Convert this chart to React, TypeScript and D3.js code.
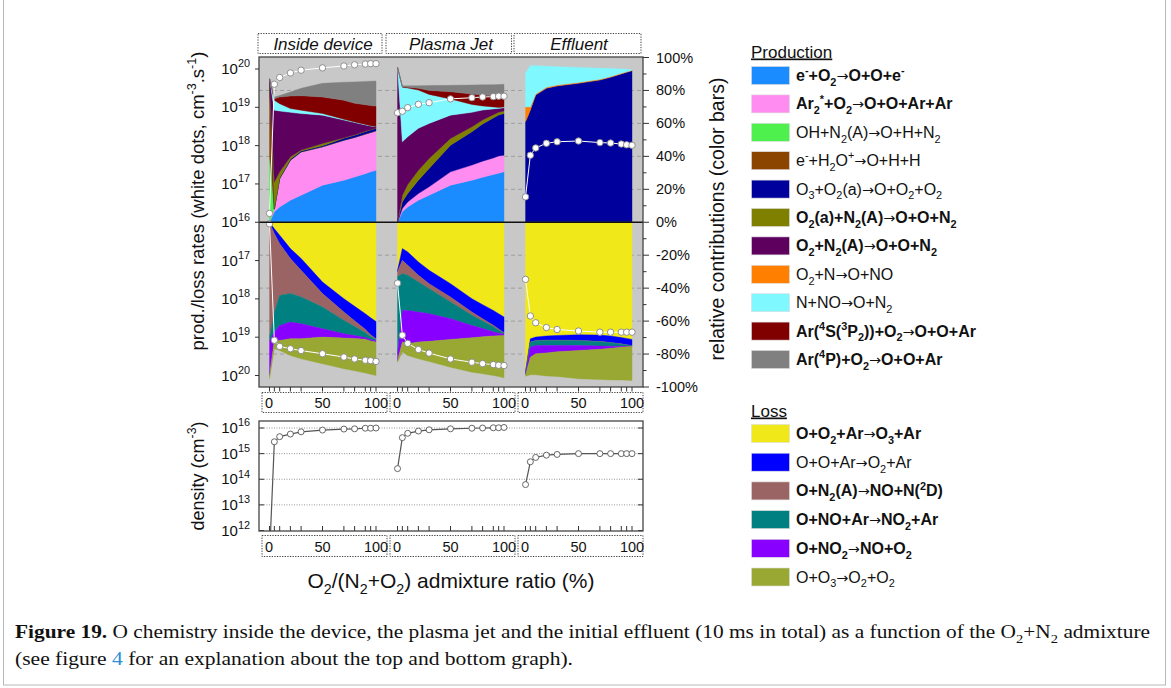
import React from 'react';
import * as d3 from 'd3';

// ---------------- data ----------------
const XS = [0.5, 5, 10, 20, 30, 50, 70, 80, 90, 95, 100];
const X_TICK_LABELS = [0, 50, 100];
const PANEL_TITLES = ['Inside device', 'Plasma Jet', 'Effluent'];
const PCT_TICKS = [-100, -80, -60, -40, -20, 0, 20, 40, 60, 80, 100];
const RATE_TICKS = [1e16, 1e17, 1e18, 1e19, 1e20];
const DENS_TICKS = [1e12, 1e13, 1e14, 1e15, 1e16];

const PROD_LABELS = [
  'e{^-}+O{_2}→O+O+e{^-}',
  'Ar{_2}{^*}+O{_2}→O+O+Ar+Ar',
  'OH+N{_2}(A)→O+H+N{_2}',
  'e{^-}+H{_2}O{^+}→O+H+H',
  'O{_3}+O{_2}(a)→O+O{_2}+O{_2}',
  'O{_2}(a)+N{_2}(A)→O+O+N{_2}',
  'O{_2}+N{_2}(A)→O+O+N{_2}',
  'O{_2}+N→O+NO',
  'N+NO→O+N{_2}',
  'Ar({^4}S({^3}P{_2}))+O{_2}→O+O+Ar',
  'Ar({^4}P)+O{_2}→O+O+Ar',
];
const PROD_BOLD = [true, true, false, false, false, true, true, false, false, true, true];
const PROD_COLORS = ['#1a8cff', '#ff8cf0', '#4df04d', '#8b4500', '#00009c', '#808000', '#5e005e', '#ff8000', '#80f8ff', '#800000', '#808080'];

const LOSS_LABELS = [
  'O+O{_2}+Ar→O{_3}+Ar',
  'O+O+Ar→O{_2}+Ar',
  'O+N{_2}(A)→NO+N({^2}D)',
  'O+NO+Ar→NO{_2}+Ar',
  'O+NO{_2}→NO+O{_2}',
  'O+O{_3}→O{_2}+O{_2}',
];
const LOSS_BOLD = [true, false, true, true, true, false];
const LOSS_COLORS = ['#f0e818', '#0000ff', '#9a6464', '#008080', '#8800ff', '#98a832'];

// relative contributions (%) — one row per production reaction (PROD_LABELS order)
const insideProd = [
  [0, 6.3, 9.3, 13.4, 16.4, 22.5, 25.5, 27.5, 29.5, 30.6, 31.6],
  [0, 1.7, 17.2, 24.3, 26.3, 23.3, 24.3, 24, 24, 23.9, 23.9],
  [40, 0, 0, 0, 0, 0, 0, 0, 0, 0, 0],
  [47, 0, 0, 0, 0, 0, 0, 0, 0, 0, 0],
  [0, 0.3, 0.5, 0.5, 0.5, 0.7, 1.2, 1.3, 1.5, 1.5, 1.5],
  [0, 16.2, 3.6, 1.5, 0.6, 1.3, 0.3, 0.3, 0.2, 0.2, 0.2],
  [0, 43.5, 36.9, 27, 22.2, 17.2, 10.7, 7.4, 3.9, 2.2, 0.8],
  [0, 0, 0, 0, 0, 0, 0, 0, 0, 0, 0],
  [0, 6, 4.5, 2.3, 2, 1, 0.5, 0.4, 0.3, 0.2, 0.1],
  [0, 1, 4, 7.6, 8.8, 10, 11.5, 11.3, 11.9, 12.2, 12.4],
  [0, 1, 1, 2.4, 4.5, 8.3, 11, 13, 14.2, 14.8, 15.2],
];
const plasmaProd = [
  [0, 6.3, 9.3, 13.4, 16.4, 22.5, 25.5, 27.3, 29, 29.8, 30.6],
  [0, 2, 3, 4, 5.1, 8.1, 9.2, 9.8, 10, 10.4, 10.1],
  [0, 0, 0, 0, 0, 0, 0, 0, 0, 0, 0],
  [0, 0, 0, 0, 0, 0, 0, 0, 0, 0, 0],
  [0, 4.1, 5.1, 8.1, 11.1, 16.2, 20.2, 22.5, 24.3, 24.9, 25.3],
  [0, 4, 5.5, 6.1, 6.1, 4.1, 3, 2.5, 2, 1.7, 1.5],
  [94, 32.4, 29, 25.4, 21.3, 14.1, 8.8, 6, 3.5, 2.3, 2],
  [0, 0, 0, 0, 0, 0, 0, 0, 0, 0, 0],
  [0, 33.2, 29.6, 23.2, 17.6, 9.8, 4.8, 2.5, 1.2, 0.6, 0.5],
  [0, 0.3, 0.5, 1.1, 2.4, 4.4, 6.3, 6.7, 6.8, 6.8, 6.2],
  [0, 0.5, 0.8, 1.6, 3, 3.9, 5.5, 6.1, 6.7, 7.1, 7.5],
];
const effluentProd = [
  [0, 0, 0, 0, 0, 0, 0, 0, 0, 0, 0],
  [0, 0, 0, 0, 0, 0, 0, 0, 0, 0, 0],
  [0, 0, 0, 0, 0, 0, 0, 0, 0, 0, 0],
  [0, 0, 0, 0, 0, 0, 0, 0, 0, 0, 0],
  [61, 68, 77.2, 81.3, 82.7, 84.3, 86.3, 88, 90, 91, 92],
  [0, 0, 0, 0, 0, 0, 0, 0, 0, 0, 0],
  [0, 0, 0, 0, 0, 0, 0, 0, 0, 0, 0],
  [9, 2, 0.6, 0.6, 0.6, 0.6, 0.5, 0.4, 0.4, 0.3, 0.3],
  [20.4, 25, 17.2, 12.8, 11.1, 9.1, 6.7, 4.9, 2.6, 1.5, 0.2],
  [0, 0, 0, 0, 0, 0, 0, 0, 0, 0, 0],
  [0, 0, 0, 0, 0, 0, 0, 0, 0, 0, 0],
];

// relative contributions (%) — one row per loss reaction (LOSS_LABELS order)
const insideLoss = [
  [0, 3.9, 7.9, 16, 22, 36.3, 46.4, 51, 55.5, 58, 60.2],
  [0.5, 3, 5.1, 6, 7.2, 7, 8.1, 8.8, 9.5, 10.3, 10.5],
  [69.5, 47.6, 31.4, 21.3, 16.2, 8.2, 5.1, 3.5, 2, 1.2, 0.6],
  [2, 12.2, 18.2, 17.3, 16.2, 13.1, 8.1, 5.5, 3, 1.7, 0.7],
  [21, 5, 9.1, 10.1, 9.1, 5.1, 2.6, 1.7, 1, 0.9, 0.7],
  [2, 5.1, 6.1, 10.2, 12.2, 16.2, 18.6, 19.7, 20.5, 20.2, 20.3],
];
const plasmaLoss = [
  [29, 16, 18, 24.1, 29.2, 37.3, 46.4, 50, 53.5, 55.5, 57.5],
  [1, 7.1, 8.1, 8.1, 8.1, 8.1, 8.1, 8.5, 9, 9.3, 9.5],
  [3, 8.1, 6.1, 4.1, 3, 3, 2, 1.5, 1, 0.7, 0.4],
  [47, 22.3, 21.3, 18.2, 15.2, 10.1, 6.1, 4.5, 3, 1.8, 0.4],
  [4, 19.2, 20.2, 18.2, 16.8, 12.6, 7.5, 5, 2.5, 1.6, 0.9],
  [1, 6.1, 7.2, 10.2, 12.2, 16.9, 20.9, 22.5, 24, 24.8, 25.7],
];
const effluentLoss = [
  [91, 70.7, 69.7, 69, 68.7, 68.3, 68.5, 69, 70, 70.5, 71.1],
  [0.3, 2, 2, 2.5, 2.8, 3.4, 3.8, 4, 3.8, 3.9, 3.7],
  [0.2, 0.3, 0.3, 0.3, 0.3, 0.3, 0.3, 0.2, 0.2, 0.1, 0.2],
  [0.5, 2.8, 2.8, 3, 3, 2.8, 2.5, 2, 1.2, 0.6, 0.2],
  [0.5, 6.1, 5, 4.5, 3.8, 3, 2, 1.3, 0.6, 0.4, 0.2],
  [1, 10.7, 12.8, 14, 15, 17.2, 18.4, 19.2, 20, 20.4, 20.6],
];

// total production / loss rates (cm^-3 s^-1) — white dots
const insideProdRate = [1.7e16, 4.0e19, 6.0e19, 7.9e19, 9.3e19, 1.07e20, 1.2e20, 1.29e20, 1.35e20, 1.38e20, 1.38e20];
const insideLossRate = [1.1e16, 1.2e19, 1.74e19, 2.0e19, 2.24e19, 2.7e19, 3.3e19, 3.7e19, 4.0e19, 4.1e19, 4.3e19];
const plasmaProdRate = [7.2e18, 7.9e18, 9.8e18, 1.2e19, 1.32e19, 1.66e19, 1.78e19, 1.86e19, 1.9e19, 1.95e19, 1.95e19];
const plasmaLossRate = [3.9e17, 8.9e18, 1.45e19, 2.1e19, 2.6e19, 3.7e19, 4.5e19, 4.9e19, 5.2e19, 5.4e19, 5.5e19];
const effluentProdRate = [4.6e16, 5.6e17, 8.7e17, 1.15e18, 1.26e18, 1.32e18, 1.2e18, 1.17e18, 1.1e18, 1.05e18, 1.02e18];
const effluentLossRate = [3.1e17, 2.8e18, 4.2e18, 5.6e18, 6.3e18, 6.9e18, 7.4e18, 7.4e18, 7.4e18, 7.4e18, 7.4e18];

// O density (cm^-3)
const insideDensity = [1e11, 2.9e15, 4.6e15, 5.8e15, 7.1e15, 8.3e15, 9.1e15, 9.3e15, 9.8e15, 9.8e15, 1.0e16];
const plasmaDensity = [2.6e14, 4.2e15, 6.2e15, 7.6e15, 8.5e15, 9.3e15, 9.8e15, 1.0e16, 1.02e16, 1.02e16, 1.05e16];
const effluentDensity = [6.2e13, 4.8e14, 7.1e14, 8.7e14, 9.3e14, 1.0e15, 1.0e15, 1.0e15, 1.0e15, 1.0e15, 1.0e15];

// ---------------- layout ----------------
const PANEL_X0 = [269, 397, 525];
const PANEL_W = 107;
const PL = 259, PR = 643, PT = 57, PB = 387;
const DT = 421, DB = 531;
const FONT = "'Liberation Sans', Arial, Helvetica, sans-serif";

function rich(text: string, fs: number) {
  const re = /\{([_^])([^}]*)\}/g;
  const raw: { t: string; k: string }[] = [];
  let last = 0;
  let m: RegExpExecArray | null;
  while ((m = re.exec(text))) {
    if (m.index > last) raw.push({ t: text.slice(last, m.index), k: 'n' });
    raw.push({ t: m[2], k: m[1] });
    last = re.lastIndex;
  }
  if (last < text.length) raw.push({ t: text.slice(last), k: 'n' });
  const parts: { t: string; k: string }[] = [];
  raw.forEach((p) => {
    if (p.k !== 'n') {
      parts.push(p);
      return;
    }
    p.t.split('→').forEach((s, i) => {
      if (i > 0) parts.push({ t: '→', k: 'a' });
      if (s) parts.push({ t: s, k: 'n' });
    });
  });
  let cur = 0;
  return parts.map((p, i) => {
    const target = p.k === '_' ? fs * 0.3 : p.k === '^' ? -fs * 0.42 : 0;
    const dy = target - cur;
    cur = target;
    if (p.k === 'a') {
      return (
        <tspan key={i} dy={dy !== 0 ? dy : undefined} fontFamily="'DejaVu Sans', sans-serif" fontWeight="normal" fontSize={fs * 0.9}>
          {p.t}
        </tspan>
      );
    }
    return (
      <tspan key={i} dy={dy !== 0 ? dy : undefined} fontSize={p.k === 'n' ? undefined : fs * 0.68}>
        {p.t}
      </tspan>
    );
  });
}

function expLabel(v: number) {
  return `10{^${Math.round(Math.log10(v))}}`;
}

const yPct = d3.scaleLinear().domain([-100, 100]).range([PB, PT + 0.5]);
const yProd = d3.scaleLog().domain([1e16, 1e20]).range([yPct(0), 69]);
const yLoss = d3.scaleLog().domain([1e16, 1e20]).range([yPct(0), 375.5]);
const yDen = d3.scaleLog().domain([1e12, 1e16]).range([530.5, 428]);

function stackSeries(layers: number[][]) {
  const rows = XS.map((x, i) => {
    const r: any = { x };
    layers.forEach((l, k) => (r[String(k)] = l[i]));
    return r;
  });
  return d3.stack<any>().keys(layers.map((_, k) => String(k)))(rows);
}

export default function App() {
  const panels = [
    { prod: insideProd, loss: insideLoss, pr: insideProdRate, lr: insideLossRate, den: insideDensity },
    { prod: plasmaProd, loss: plasmaLoss, pr: plasmaProdRate, lr: plasmaLossRate, den: plasmaDensity },
    { prod: effluentProd, loss: effluentLoss, pr: effluentProdRate, lr: effluentLossRate, den: effluentDensity },
  ];
  const gridPct = PCT_TICKS.filter((t) => t !== 0 && Math.abs(t) !== 100);
  const minorPct = d3.range(-90, 100, 20);

  return (
    <svg width={1171} height={688} style={{ position: 'absolute', left: 0, top: 0, background: '#fff' }} fontFamily={FONT}>
      <defs>
        <clipPath id="denClip">
          <rect x={PL} y={DT} width={PR - PL} height={DB - DT} />
        </clipPath>
        <clipPath id="topClip">
          <rect x={PL} y={PT} width={PR - PL} height={PB - PT} />
        </clipPath>
      </defs>
      <rect x={3.5} y={-2} width={1162} height={687} fill="none" stroke="#b8b8b8" />

      {/* ---------- top plot ---------- */}
      <rect x={PL} y={PT} width={PR - PL} height={PB - PT} fill="#c8c8c8" />
      {gridPct.map((t) => (
        <line key={t} x1={PL} x2={PR} y1={yPct(t)} y2={yPct(t)} stroke="#9a9a9a" strokeWidth={0.9} strokeDasharray="4,3" />
      ))}
      <g clipPath="url(#topClip)">
        {panels.map((p, pi) => {
          const xs = d3.scaleLinear().domain([0, 100]).range([PANEL_X0[pi], PANEL_X0[pi] + PANEL_W]);
          const prodS = stackSeries(p.prod);
          const lossS = stackSeries(p.loss);
          const areaP = d3.area<any>().x((d) => xs(d.data.x)).y0((d) => yPct(d[0])).y1((d) => yPct(d[1]));
          const areaL = d3.area<any>().x((d) => xs(d.data.x)).y0((d) => yPct(-d[0])).y1((d) => yPct(-d[1]));
          const lineP = d3.line<number>().x((_, i) => xs(XS[i])).y((v) => yProd(v));
          const lineL = d3.line<number>().x((_, i) => xs(XS[i])).y((v) => yLoss(v));
          return (
            <g key={pi}>
              {prodS.map((s, k) =>
                d3.max(p.prod[k]) ? (
                  <path key={'p' + k} d={areaP(s) || ''} fill={PROD_COLORS[k]} stroke={PROD_COLORS[k]} strokeWidth={0.4} />
                ) : null
              )}
              {lossS.map((s, k) =>
                d3.max(p.loss[k]) ? (
                  <path key={'l' + k} d={areaL(s) || ''} fill={LOSS_COLORS[k]} stroke={LOSS_COLORS[k]} strokeWidth={0.4} />
                ) : null
              )}
              <path d={lineP(p.pr) || ''} fill="none" stroke="#fff" strokeWidth={1} />
              <path d={lineL(p.lr) || ''} fill="none" stroke="#fff" strokeWidth={1} />
              {p.pr.map((v, i) => (
                <circle key={'pd' + i} cx={xs(XS[i])} cy={yProd(v)} r={3.2} fill="#fff" stroke="#858585" strokeWidth={0.9} />
              ))}
              {p.lr.map((v, i) => (
                <circle key={'ld' + i} cx={xs(XS[i])} cy={yLoss(v)} r={3.2} fill="#fff" stroke="#858585" strokeWidth={0.9} />
              ))}
            </g>
          );
        })}
      </g>
      <line x1={PL} x2={PR} y1={yPct(0)} y2={yPct(0)} stroke="#111" strokeWidth={1.5} />
      <rect x={PL} y={PT} width={PR - PL} height={PB - PT} fill="none" stroke="#444" strokeWidth={1.3} />

      {/* left log axis */}
      {RATE_TICKS.map((t) => (
        <g key={'rt' + t}>
          <line x1={PL - 4} x2={PL} y1={yProd(t)} y2={yProd(t)} stroke="#333" />
          <text x={250} y={yProd(t) + 5} textAnchor="end" fontSize={15} fill="#111">
            {rich(expLabel(t), 16)}
          </text>
        </g>
      ))}
      {RATE_TICKS.filter((t) => t > 1e16).map((t) => (
        <g key={'rl' + t}>
          <line x1={PL - 4} x2={PL} y1={yLoss(t)} y2={yLoss(t)} stroke="#333" />
          <text x={250} y={yLoss(t) + 5} textAnchor="end" fontSize={15} fill="#111">
            {rich(expLabel(t), 16)}
          </text>
        </g>
      ))}

      {/* right percent axis */}
      {PCT_TICKS.map((t) => (
        <g key={'pt' + t}>
          <line x1={PR} x2={PR + 6} y1={yPct(t)} y2={yPct(t)} stroke="#333" />
          <text x={656} y={yPct(t) + 5} fontSize={14.5} fill="#111">
            {`${t}%`}
          </text>
        </g>
      ))}
      {minorPct.map((t) => (
        <line key={'mt' + t} x1={PR} x2={PR + 3.5} y1={yPct(t)} y2={yPct(t)} stroke="#333" />
      ))}

      {/* bottom ticks of top plot & panel boxes */}
      {PANEL_X0.map((x0, pi) => {
        const xs = d3.scaleLinear().domain([0, 100]).range([x0, x0 + PANEL_W]);
        return (
          <g key={'bx' + pi}>
            {XS.map((x, i) => (
              <line key={i} x1={xs(x)} x2={xs(x)} y1={PB} y2={PB + 4.5} stroke="#333" />
            ))}
            <rect x={x0 - 11} y={33.5} width={PANEL_W + 17 + pi * 1.5} height={20} fill="none" stroke="#444" strokeDasharray="1.3,1.3" />
            <text x={x0 + 54} y={49.5} textAnchor="middle" fontSize={17} fontStyle="italic" fill="#111">
              {PANEL_TITLES[pi]}
            </text>
            <rect x={x0 - 7} y={392.5} width={PANEL_W + 18} height={20} fill="none" stroke="#444" strokeDasharray="1.3,1.3" />
            {X_TICK_LABELS.map((t) => (
              <text key={t} x={xs(t)} y={408} textAnchor="middle" fontSize={14.5} fill="#111">
                {t}
              </text>
            ))}
            {/* density panel x labels */}
            <rect x={x0 - 7} y={535.5} width={PANEL_W + 18} height={21} fill="none" stroke="#444" strokeDasharray="1.3,1.3" />
            {X_TICK_LABELS.map((t) => (
              <text key={'d' + t} x={xs(t)} y={551.5} textAnchor="middle" fontSize={14.5} fill="#111">
                {t}
              </text>
            ))}
            {XS.map((x, i) => (
              <line key={'dt' + i} x1={xs(x)} x2={xs(x)} y1={DB} y2={DB - 5} stroke="#333" />
            ))}
          </g>
        );
      })}

      {/* ---------- density plot ---------- */}
      {DENS_TICKS.filter((t) => t > 1e12).map((t) => (
        <line key={'dg' + t} x1={PL} x2={PR} y1={yDen(t)} y2={yDen(t)} stroke="#8a8a8a" strokeWidth={0.9} strokeDasharray="1,1.5" />
      ))}
      <g clipPath="url(#denClip)">
        {panels.map((p, pi) => {
          const xs = d3.scaleLinear().domain([0, 100]).range([PANEL_X0[pi], PANEL_X0[pi] + PANEL_W]);
          const line = d3.line<number>().x((_, i) => xs(XS[i])).y((v) => yDen(v));
          return (
            <g key={'den' + pi}>
              <path d={line(p.den) || ''} fill="none" stroke="#555" strokeWidth={1.2} />
              {p.den.map((v, i) => (
                <circle key={i} cx={xs(XS[i])} cy={yDen(v)} r={3} fill="#fff" stroke="#555" strokeWidth={0.9} />
              ))}
            </g>
          );
        })}
      </g>
      {DENS_TICKS.map((t) => (
        <g key={'dtk' + t}>
          <line x1={PL} x2={PL + 5} y1={yDen(t)} y2={yDen(t)} stroke="#333" />
          <line x1={PR} x2={PR - 5} y1={yDen(t)} y2={yDen(t)} stroke="#333" />
          <text x={250} y={yDen(t) + 5} textAnchor="end" fontSize={15} fill="#111">
            {rich(expLabel(t), 16)}
          </text>
        </g>
      ))}
      <rect x={PL} y={DT} width={PR - PL} height={DB - DT} fill="none" stroke="#444" strokeWidth={1.3} />

      {/* axis titles */}
      <text transform="translate(204,201) rotate(-90)" textAnchor="middle" fontSize={18.5} fill="#111">
        {rich('prod./loss rates (white dots, cm{^-3}.s{^-1})', 18.5)}
      </text>
      <text transform="translate(204,476) rotate(-90)" textAnchor="middle" fontSize={18} fill="#111">
        {rich('density (cm{^-3})', 18)}
      </text>
      <text transform="translate(724,219) rotate(-90)" textAnchor="middle" fontSize={19.5} fill="#111">
        relative contributions (color bars)
      </text>
      <text x={451} y={588} textAnchor="middle" fontSize={21} fill="#111">
        {rich('O{_2}/(N{_2}+O{_2}) admixture ratio (%)', 21)}
      </text>

      {/* ---------- legend ---------- */}
      <text x={751} y={57.5} fontSize={17} fill="#111" textDecoration="underline">
        Production
      </text>
      {PROD_LABELS.map((lab, i) => {
        const y = 66.5 + i * 28.4;
        return (
          <g key={'lp' + i}>
            <rect x={751.5} y={y} width={38} height={18} fill={PROD_COLORS[i]} stroke="#ddd" strokeWidth={0.6} />
            <text x={796} y={y + 14.5} fontSize={16} fontWeight={PROD_BOLD[i] ? 'bold' : 'normal'} fill="#111">
              {rich(lab, 16)}
            </text>
          </g>
        );
      })}
      <text x={751} y={416.5} fontSize={17} fill="#111" textDecoration="underline">
        Loss
      </text>
      {LOSS_LABELS.map((lab, i) => {
        const y = 424.5 + i * 28.7;
        return (
          <g key={'ll' + i}>
            <rect x={751.5} y={y} width={38} height={18} fill={LOSS_COLORS[i]} stroke="#ddd" strokeWidth={0.6} />
            <text x={796} y={y + 14.5} fontSize={16} fontWeight={LOSS_BOLD[i] ? 'bold' : 'normal'} fill="#111">
              {rich(lab, 16)}
            </text>
          </g>
        );
      })}

      {/* ---------- caption ---------- */}
      <text x={15} y={638} fontFamily="'Liberation Serif', 'Times New Roman', serif" fontSize={18} fill="#111" textLength={1135} lengthAdjust="spacingAndGlyphs">
        <tspan fontWeight="bold">Figure 19.</tspan>
        {rich(' O chemistry inside the device, the plasma jet and the initial effluent (10 ms in total) as a function of the O{_2}+N{_2} admixture', 18)}
      </text>
      <text x={15} y={665} fontFamily="'Liberation Serif', 'Times New Roman', serif" fontSize={18} fill="#111" textLength={558} lengthAdjust="spacingAndGlyphs">
        <tspan>(see figure </tspan>
        <tspan fill="#2b8fd6">4</tspan>
        <tspan> for an explanation about the top and bottom graph).</tspan>
      </text>
    </svg>
  );
}
